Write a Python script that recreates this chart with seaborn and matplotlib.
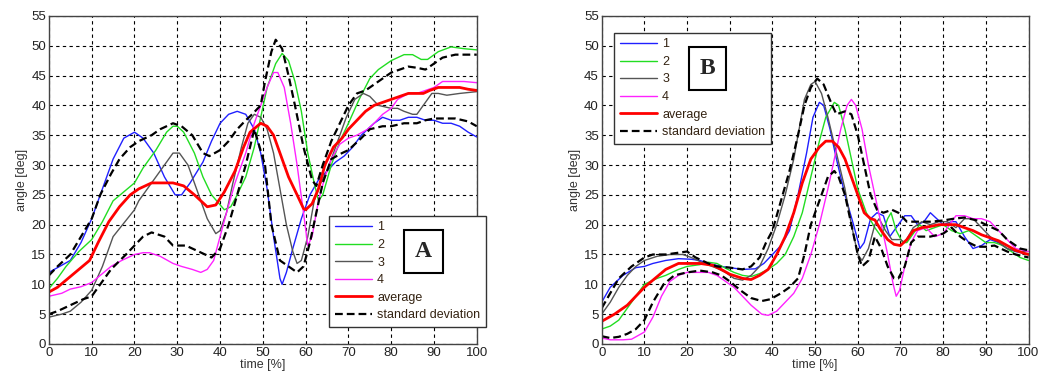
import matplotlib
matplotlib.use('Agg')
import matplotlib.pyplot as plt
import seaborn as sns

# ---- panel A ----
a1_x = [0, 5, 7.5, 10, 12.5, 15, 17.5, 20, 22, 24.5, 27, 29.5, 31, 33, 36, 38, 40, 42, 44, 46, 48, 49.5, 51, 52.5, 54, 54.5, 55.5, 57, 59, 61, 63, 65, 67, 69, 71, 73, 76, 78, 80, 82, 84, 86, 88, 90, 92, 94, 96, 98, 100]
a1_y = [12, 14, 17, 21, 26, 31, 34.5, 35.5, 34.5, 32, 28, 25, 25, 27, 30.5, 34, 37, 38.5, 39, 38.5, 36, 32, 26, 18, 11, 10, 12, 16, 21, 25, 27.5, 29, 30.5, 31.5, 33, 35, 37, 38, 37.5, 37.5, 38, 38, 37.5, 37.5, 37, 37, 36.5, 35.5, 34.7]

a2_x = [0, 2, 4, 7, 10, 12.5, 15, 20, 22, 25, 27.5, 29, 30, 31.5, 34, 36, 38, 41, 42.5, 44, 46, 48, 49.5, 51, 53, 54.5, 56, 57.5, 59, 60.5, 62, 63, 64, 66, 68, 70, 72.5, 75, 77, 80, 83, 85, 87, 88.5, 91, 94, 97, 100]
a2_y = [9.3, 11, 13, 15.5, 17.5, 20.5, 24, 27, 29.5, 32.5, 35.5, 36.5, 36.5, 35.5, 32, 28, 25, 22.5, 23, 25, 28, 33, 38, 43, 47, 48.7, 47.5, 44, 39, 32, 27, 24, 25, 30, 34, 37, 41, 44.5, 46, 47.5, 48.5, 48.5, 47.7, 47.7, 49, 49.8, 49.5, 49.3]

a3_x = [0, 3, 5, 7.5, 10, 12.5, 15, 20, 21, 24, 27, 29, 30.5, 32.5, 34.5, 37, 39, 40, 41.5, 43, 45, 46.5, 48, 49.5, 51, 52.5, 54, 55.5, 57, 58, 59, 60.5, 62, 63.5, 65, 67, 69.5, 71.5, 73.5, 75, 77, 80, 81.5, 83, 85, 86, 87.5, 89.5, 91, 93, 96, 100]
a3_y = [4.5, 5, 5.5, 7, 9, 13, 18, 22.5, 24, 27, 30, 32, 32, 30, 26, 21, 18.5, 19, 22, 27, 33, 37, 38.5, 38, 36, 32, 26, 20, 15.5, 13.5, 14, 18, 24, 27, 29, 33, 38, 41, 42, 41.5, 40, 39.5, 39.5, 39, 38.5, 38.5, 40, 42, 42, 41.7, 42, 42.3]

a4_x = [0, 3, 5, 7.5, 10, 12, 14.5, 17, 20, 22, 23.5, 26, 29, 31, 33.5, 35.5, 37, 38.5, 40, 41.5, 43.5, 46, 48, 49.5, 51, 52.5, 53.5, 55, 56.5, 58, 59.5, 60.5, 61.5, 63, 64.5, 66, 68, 70, 72, 74.5, 76, 78, 80, 81.5, 84, 86, 88, 90, 92, 95, 97, 100]
a4_y = [8, 8.5, 9.2, 9.6, 10.3, 11.5, 13, 14, 15, 15.3, 15.3, 14.7, 13.5, 13, 12.5, 12, 12.5, 14, 18, 22, 27, 32, 37, 40, 43, 45.5, 45.5, 43, 37, 30, 22, 16.5, 18, 24, 28, 31, 33.5, 34.5, 35, 36, 37, 38.5, 39.5, 41, 42, 42, 42.5, 43, 44, 44, 44, 43.8]

a_avg_x = [0, 2, 4.5, 7, 9.5, 11.5, 14, 16.5, 19, 21, 24, 26, 29, 31.5, 34, 37, 39, 41, 43.5, 45.5, 47, 49.5, 51, 52.5, 54.5, 56, 58, 59.5, 60, 61.5, 63, 64.5, 66.5, 68.5, 70, 72, 74, 76, 78, 80, 82, 84, 86, 87.5, 89, 91, 94, 96, 98, 100]
a_avg_y = [8.7, 9.5, 11, 12.5, 14, 17, 20.5, 23, 25, 26, 27, 27, 27, 26.5, 25, 23, 23.3, 25.5, 29, 33, 35.5, 37, 36.5, 35, 31, 28, 25, 22.7, 22.5, 23.5, 26, 30, 33, 34.5, 36, 37.5, 39, 40, 40.5, 41, 41.5, 42, 42, 42, 42.5, 43, 43, 43, 42.7, 42.5]

a_hi_x = [0, 2, 5, 7.5, 10, 12, 14.5, 16.5, 19, 21, 24, 26, 29, 31, 33.5, 36, 37.5, 40, 42, 44, 46, 47.5, 49.5, 50.5, 52, 53, 54.5, 56, 57.5, 59.5, 61.5, 62.5, 64, 66, 68, 70, 72, 74, 76, 78, 80, 82, 84, 86, 88, 90, 92, 95, 100]
a_hi_y = [11.5, 13, 15, 18, 21, 25, 28.5, 31, 33, 34, 35, 36, 37, 36.5, 35, 32, 31.5, 32.5, 34, 36, 37.5, 38.5, 40, 44, 49, 51, 49.5, 45, 40, 33, 27.5, 26.5, 30, 34, 37, 40, 42, 42.5, 43.5, 44.5, 45.5, 46, 46.5, 46.3, 46, 47, 48, 48.5, 48.5]

a_lo_x = [0, 2, 5, 8, 10, 12, 14.5, 18, 20, 22, 24, 27, 29, 32, 35, 38, 40, 42, 44, 46, 48, 50.5, 52, 54, 56, 58, 59.5, 61, 62.5, 64, 66, 68.5, 70, 73, 75, 78, 80, 83, 86, 88, 90, 95, 98, 100]
a_lo_y = [5, 5.5, 6.5, 7.5, 8, 10, 12.5, 15, 16.5, 18, 18.7, 18, 16.5, 16.5, 15.5, 14.5, 16, 20, 25, 30, 36, 30, 20, 14, 13, 12, 13, 17, 22, 27, 31, 32, 32.5, 34.5, 36, 36.5, 36.5, 37, 37, 37.5, 37.8, 37.8, 37.3, 36.5]

# ---- panel B ----
b1_x = [0, 2, 5, 8, 10, 12, 15, 18, 21, 23, 25, 28, 30, 33, 36, 38, 40, 42, 44, 46, 48, 49.5, 51, 52, 53.5, 55, 57, 59, 60.5, 61.5, 63, 64.5, 66, 67.5, 69, 71, 72.5, 74, 75.5, 77, 78.5, 80, 82, 83, 85, 87, 89, 91, 93, 95, 97, 100]
b1_y = [7, 9.5, 11.5, 12.8, 13, 13.5, 14, 14.3, 14.2, 14, 13.5, 13, 12.8, 12.5, 12.6, 13.5, 15, 16.5, 19, 25, 32, 38, 40.5, 40, 36, 31, 25, 20, 16, 17, 21, 22, 21.5, 18, 19.5, 21.5, 21.5, 20, 20.5, 22, 21, 20, 20.5, 20.5, 18, 16, 16.5, 17.5, 17, 16, 15.5, 15]

b2_x = [0, 2, 4, 6, 8, 10, 13, 15, 18, 20, 23, 25, 27, 29, 31, 33, 35, 37, 39, 41, 43, 45, 47, 49, 51, 52.5, 54.5, 55.5, 57, 58.5, 60, 62, 64, 65.5, 67, 67.8, 69, 70.5, 71.5, 73, 74.5, 76, 78, 80, 82, 84, 86, 88, 90, 92, 94, 96, 98, 100]
b2_y = [2.5, 3, 4, 6, 8, 10, 11, 11.5, 12.5, 13, 13.3, 13.7, 13.5, 12.7, 12, 11.5, 11.3, 11.8, 12.5, 13.5, 15, 18, 22, 28, 34, 38, 40.5, 40, 36, 31, 26, 22, 19.5, 18, 21, 22, 19, 17, 17, 18.5, 20, 19, 19.5, 20, 19, 18.5, 19, 18, 17, 17, 16.5, 15.5, 14.5, 14]

b3_x = [0, 2, 4, 6, 8, 10, 13, 16, 19, 21, 24, 27, 29, 31, 33, 35, 37, 39, 41, 43, 45, 46.5, 47.5, 49, 50, 51.5, 53, 55, 57, 58.5, 60, 61, 62.5, 64, 65, 66.5, 68, 70, 71, 73, 75, 77, 79, 81, 83, 85, 87, 89, 91, 93, 95, 97, 100]
b3_y = [5, 7, 9.5, 11.5, 13, 14, 14.7, 15, 15, 14.5, 13.5, 12.7, 12, 11, 10.7, 11.5, 13, 16, 20, 25, 31, 37, 41, 43.5, 44, 42, 38, 32, 26, 20, 15, 14, 16, 20, 21, 19, 17.5, 17.5, 17, 19.5, 20.5, 20, 20.5, 20.5, 19.5, 21, 21, 19.5, 18, 17, 16, 15.5, 15.5]

b4_x = [0, 2, 5, 7, 10, 12, 14, 16, 18, 20, 23, 25, 27, 29, 31, 33, 35, 37.5, 39, 41, 43, 45, 47, 49, 51, 53, 54.5, 56, 57.5, 58.5, 59.5, 61, 62.5, 64, 65.5, 67, 68.3, 69, 69.8, 71, 72.5, 74, 76, 78, 80, 81.5, 83, 85, 87, 89, 91, 93, 95, 97, 100]
b4_y = [1, 0.7, 0.7, 0.8, 2, 4.5, 8, 10.5, 11.5, 12, 12, 12, 11.5, 10.5, 9.5, 8, 6.5, 5, 4.8, 5.5, 7, 8.5, 11, 15, 20, 26, 31, 36, 40, 41, 40, 36, 30, 25, 20, 15, 10, 8, 9, 13, 17, 19, 19.5, 18, 18.5, 20, 21.5, 21.5, 21, 21, 20.5, 19, 17.5, 16, 15.5]

b_avg_x = [0, 3, 6, 8, 10, 12.5, 15, 18, 20, 23, 26, 28, 30, 33, 35, 37, 39, 41, 43, 45, 47, 49, 51, 52.5, 54, 55.5, 57, 58.5, 60, 61.5, 63, 64, 65.5, 67, 68.5, 70, 71.5, 73, 75, 77, 79, 81, 83, 85, 87, 89, 91, 93, 95, 97, 99, 100]
b_avg_y = [3.8, 5, 6.5, 8, 9.5, 11, 12.5, 13.5, 13.5, 13.5, 13.2, 12.5, 11.7, 11, 10.8, 11.5, 12.5, 15, 18, 22, 27, 31, 33, 34, 34, 33, 31, 28, 25, 22, 21, 20.8, 19, 17.5, 16.7, 16.5, 17.5, 19, 19.5, 19.7, 20, 20, 20, 19.5, 19, 18.3, 17.8, 17.3, 16.5, 15.7, 15.2, 15]

b_hi_x = [0, 2, 4, 7, 10, 12, 15, 18, 20, 22, 25, 27, 30, 33, 35, 37, 38.5, 40, 42, 44, 46, 47.5, 49, 50.5, 52, 54, 55, 57, 58.5, 60, 61.5, 63, 64.5, 66, 68, 69.5, 71.5, 74, 77, 80, 82.5, 85, 88, 90, 93, 95, 98, 100]
b_hi_y = [6, 8.5, 11, 13, 14.5, 15, 15, 15.3, 15.5, 14.5, 13.5, 13, 12.8, 12.5, 13, 14.5, 17, 19, 24, 29, 35, 40, 43, 44.5, 43.5, 40, 38.5, 39, 38.5, 35, 30, 25, 22.5, 22, 22.5, 22, 20.5, 20.5, 20.5, 20.7, 21, 21.2, 20.7, 20, 19, 17.5, 16, 15.7]

b_lo_x = [0, 2, 4, 6, 8, 10, 12, 14.5, 17, 20, 23, 26, 28, 30, 32.5, 35, 37.5, 39.5, 42, 44, 46, 47.5, 49, 51, 53, 54.5, 55.5, 57, 58.5, 60, 61, 62.5, 64, 65.5, 67, 68.5, 69.5, 71, 72.5, 74, 77, 80, 82, 84, 86, 88, 90, 92, 95, 97, 100]
b_lo_y = [1.3, 1, 1.2, 1.7, 2.5, 4, 7, 10, 11.5, 12, 12.3, 12, 11.5, 10.5, 9, 7.7, 7.2, 7.5, 8.5, 9.5, 11, 15, 20, 24, 28, 29, 28, 25, 20, 15, 13, 14, 18, 16, 13, 11, 11, 13, 17, 18, 18, 18.5, 19.5, 18, 17, 16.3, 16.3, 16.5, 15.5, 15, 14.5]

labels = ['1', '2', '3', '4', 'average', 'standard deviation']
colors = ['#2020ff', '#22dd22', '#555555', '#ff22ff', '#ff0000', '#000000']

panels = {
    'A': [(a1_x, a1_y), (a2_x, a2_y), (a3_x, a3_y), (a4_x, a4_y),
          (a_avg_x, a_avg_y), (a_hi_x, a_hi_y), (a_lo_x, a_lo_y)],
    'B': [(b1_x, b1_y), (b2_x, b2_y), (b3_x, b3_y), (b4_x, b4_y),
          (b_avg_x, b_avg_y), (b_hi_x, b_hi_y), (b_lo_x, b_lo_y)],
}

sns.set_style('white')
plt.rcParams['font.family'] = ['Liberation Sans', 'DejaVu Sans']

fig = plt.figure(figsize=(10.41, 3.78), dpi=100)
axA = fig.add_axes([0.047, 0.090, 0.411, 0.868])
axB = fig.add_axes([0.578, 0.090, 0.410, 0.868])

for name, ax in (('A', axA), ('B', axB)):
    series = panels[name]
    handles = []
    for i, (xs, ys) in enumerate(series):
        ci = min(i, 5)
        lw = 1.0 if ci < 4 else (2.0 if ci == 4 else 1.6)
        ls = '-' if ci < 5 else (0, (3.5, 1.8))
        sns.lineplot(x=xs, y=ys, ax=ax, sort=False, estimator=None,
                     color=colors[ci], linewidth=lw, linestyle=ls)
        if i < 6:
            handles.append(ax.lines[-1])

    ax.set_xlim(0, 100)
    ax.set_ylim(0, 55)
    ax.set_xticks(range(0, 101, 10))
    ax.set_yticks(range(0, 56, 5))
    ax.grid(True, color='black', linestyle=(0, (3, 3)), linewidth=0.8)
    ax.tick_params(direction='in', length=3, labelsize=9.5, colors='#222222', pad=2)
    for sp in ax.spines.values():
        sp.set_visible(True)
        sp.set_color('#444444')
        sp.set_linewidth(1.0)
    ax.set_xlabel('time [%]', fontsize=9, color='#333333', labelpad=0)
    ax.set_ylabel('angle [deg]', fontsize=9, color='#333333', labelpad=2)

    # legend and the boxed panel letter, placed in figure pixels
    if name == 'A':
        loc = (329 / 1041, (378 - 327) / 378)
        box = (399 / 1041, (378 - 275) / 378, 49 / 1041, 47 / 378)
    else:
        loc = (614 / 1041, (378 - 144) / 378)
        box = (681 / 1041, (378 - 92) / 378, 53 / 1041, 47 / 378)
    leg = ax.legend(handles, labels, loc='lower left', bbox_to_anchor=loc,
                    bbox_transform=fig.transFigure, fontsize=9, frameon=True,
                    fancybox=False, framealpha=1, edgecolor='#333333',
                    handlelength=3.0, handletextpad=0.4, labelspacing=0.45,
                    borderpad=0.45, borderaxespad=0)
    leg.get_frame().set_linewidth(1.0)
    for t in leg.get_texts():
        t.set_color('#332211')
    fig.text(box[0] + box[2] / 2, box[1] + box[3] / 2, name, ha='center', va='center',
             fontsize=17, fontweight='bold', family='Liberation Serif', zorder=10,
             bbox=dict(boxstyle='square,pad=0.45', facecolor='white',
                       edgecolor='black', linewidth=1.5))

fig.savefig('out.png', dpi=100)
